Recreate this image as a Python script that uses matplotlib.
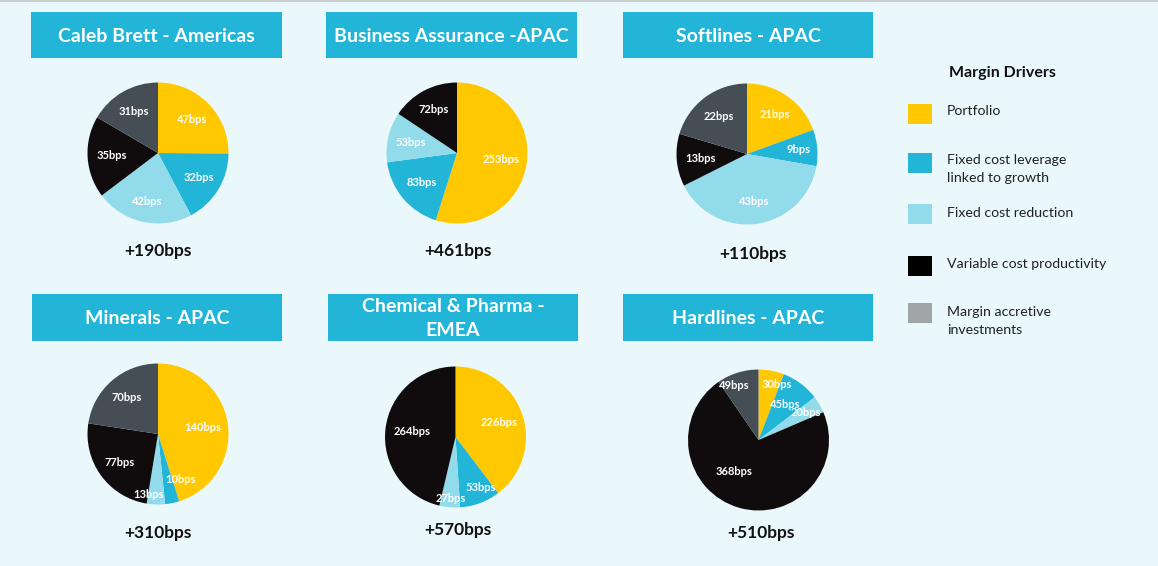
import numpy as np
import matplotlib
matplotlib.use("Agg")
import matplotlib.pyplot as plt
from matplotlib.patches import Rectangle

# ---------------- data ----------------
drivers = ["Portfolio", "Fixed cost leverage\nlinked to growth", "Fixed cost reduction",
           "Variable cost productivity", "Margin accretive\ninvestments"]
divisions = ["Caleb Brett - Americas", "Business Assurance -APAC", "Softlines - APAC",
             "Minerals - APAC", "Chemical & Pharma -\nEMEA", "Hardlines - APAC"]
caleb_brett = [47, 32, 42, 35, 31]
business_assurance = [253, 83, 53, 72, 0]
softlines = [21, 9, 43, 13, 22]
minerals = [140, 10, 13, 77, 70]
chemical_pharma = [226, 53, 27, 264, 0]
hardlines = [30, 45, 20, 368, 49]
totals = ["+190bps", "+461bps", "+110bps", "+310bps", "+570bps", "+510bps"]
series = [caleb_brett, business_assurance, softlines, minerals, chemical_pharma, hardlines]

# ---------------- style ----------------
W, H = 1158, 566
BG = "#EAF8FB"
BOX = "#22B5D8"
slice_colors = ["#FFC800", "#22B5D8", "#92DBEB", "#100C0E", "#464E55"]
legend_colors = ["#FFC800", "#22B5D8", "#92DBEB", "#000000", "#A1A4A7"]
FONT = ["Lato", "DejaVu Sans"]

# layout (pixels)
title_boxes = [(31, 12, 251, 46), (326, 12, 251, 46), (623, 12, 250, 46),
               (32, 294, 250, 47), (328, 294, 250, 47), (623, 294, 250, 47)]
pie_centers = [(158, 153), (457, 153), (747, 154), (158, 434), (455.5, 437), (758.5, 440)]
pie_radius = 70.5
total_pos = [(158, 251), (458, 251), (753, 254), (158, 533), (458, 530), (761, 533)]
# label radial distance (fraction of radius) per slice, and optional angle overrides (deg)
label_dist = [
    [0.68, 0.68, 0.70, 0.66, 0.68],
    [0.63, 0.65, 0.67, 0.70, 0.6],
    [0.68, 0.74, 0.68, 0.66, 0.66],
    [0.65, 0.72, 0.87, 0.68, 0.68],
    [0.66, 0.80, 0.87, 0.62, 0.6],
    [0.83, 0.63, 0.78, 0.57, 0.85],
]
label_angle = [
    [None] * 5,
    [None] * 5,
    [None] * 5,
    [None, -64, -99, None, None],
    [None, -64, None, None, None],
    [72, None, None, -128, 114],
]

fig = plt.figure(figsize=(W / 100, H / 100), dpi=100)
fig.patch.set_facecolor(BG)

bg = fig.add_axes([0, 0, 1, 1])
bg.set_xlim(0, W)
bg.set_ylim(H, 0)
bg.axis("off")
bg.add_patch(Rectangle((0, 0), W, 2, color="#C9CED1", lw=0))

for i, (x, y, w, h) in enumerate(title_boxes):
    bg.add_patch(Rectangle((x, y), w, h, color=BOX, lw=0))
    bg.text(x + w / 2, y + h / 2 + 1, divisions[i], ha="center", va="center", color="white",
            fontsize=14, fontweight="bold", family=FONT, linespacing=1.45)
    tx, ty = total_pos[i]
    bg.text(tx, ty, totals[i], ha="center", va="center", color="#111111",
            fontsize=12.5, fontweight="bold", family=FONT)

R = 76
for i, vals in enumerate(series):
    cx, cy = pie_centers[i]
    ax = fig.add_axes([(cx - R) / W, 1 - (cy + R) / H, 2 * R / W, 2 * R / H])
    ax.set_facecolor("none")
    r = pie_radius / R
    wedges, _ = ax.pie(vals, colors=slice_colors, startangle=90, counterclock=False,
                       radius=r, wedgeprops=dict(linewidth=0))
    ax.set_xlim(-1, 1)
    ax.set_ylim(-1, 1)
    ax.set_aspect("equal")
    ax.axis("off")
    for j, wdg in enumerate(wedges):
        if vals[j] == 0:
            continue
        ang = (wdg.theta1 + wdg.theta2) / 2
        if label_angle[i][j] is not None:
            ang = label_angle[i][j]
        d = label_dist[i][j] * r
        ax.text(d * np.cos(np.radians(ang)), d * np.sin(np.radians(ang)), f"{vals[j]}bps",
                ha="center", va="center", color="white", fontsize=8,
                fontweight="bold", family=FONT)

# legend
bg.text(1002, 73, "Margin Drivers", ha="center", va="center", fontsize=11.5,
        fontweight="bold", family=FONT, color="#111111")
leg_sq_y = [104, 153, 204, 256, 303]
leg_txt_y = [111, 169, 213, 264, 321]
for k in range(5):
    bg.add_patch(Rectangle((908, leg_sq_y[k]), 24, 20, color=legend_colors[k], lw=0))
    bg.text(947, leg_txt_y[k], drivers[k], ha="left", va="center", fontsize=10.2,
            family=FONT, color="#222222", linespacing=1.55)

fig.savefig("out.png", dpi=100, facecolor=BG)
